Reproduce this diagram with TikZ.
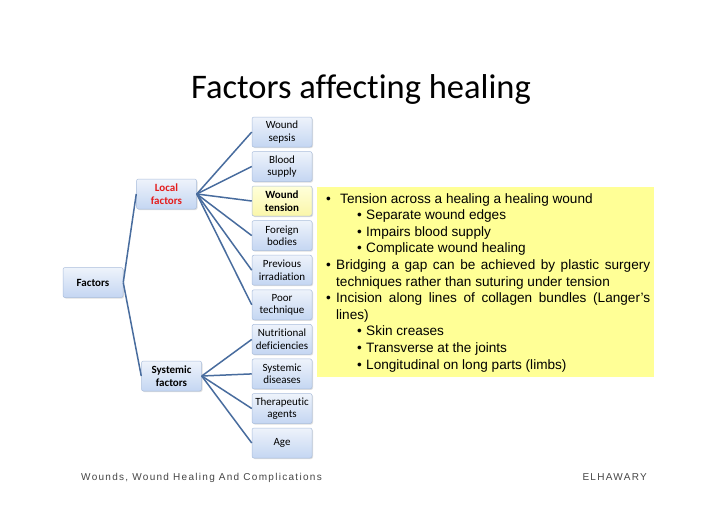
\documentclass[tikz,border=0pt]{standalone}
\usepackage{fontspec}
\setmainfont{Carlito}[Ligatures=NoCommon]
\newfontfamily\arialf{Liberation Sans}
\newfontfamily\footf[LetterSpace=13]{Liberation Sans}
\usetikzlibrary{shadows}
\definecolor{edgeblue}{RGB}{72,108,158}
\definecolor{boxtop}{RGB}{238,243,251}
\definecolor{boxbot}{RGB}{196,214,242}
\definecolor{boxline}{RGB}{170,190,220}
\definecolor{ytop}{RGB}{255,255,218}
\definecolor{ybot}{RGB}{250,246,170}
\definecolor{notebg}{RGB}{255,255,150}
\definecolor{localred}{RGB}{228,28,28}
\definecolor{footgray}{RGB}{70,70,70}
\tikzset{
  fbox/.style={draw=boxline, line width=0.5pt, rounded corners=2pt,
    top color=boxtop, bottom color=boxbot, minimum width=60pt, minimum height=30pt,
    inner xsep=0.5pt, inner ysep=1pt, align=center,
    font=\fontsize{11}{12.5}\selectfont,
    drop shadow={opacity=0.25, shadow xshift=1pt, shadow yshift=-1pt}},
  ybox/.style={fbox, top color=ytop, bottom color=ybot},
  link/.style={draw=edgeblue, line width=1.5pt},
  notetext/.style={anchor=base west, inner sep=0pt, font=\arialf\fontsize{13.6}{15}\selectfont},
  foot/.style={inner sep=0pt, text=footgray, font=\footf\fontsize{10}{12}\selectfont}
}
\begin{document}
\begin{tikzpicture}[x=1pt,y=-1pt]
\useasboundingbox[fill=white] (0,0) rectangle (728,515);

\node[anchor=base, inner sep=0pt, font=\fontsize{34.5}{38}\selectfont] (title) at (361,98) {Factors affecting healing};

% root and branches
\node[fbox, font=\bfseries\fontsize{11}{12.5}\selectfont] (factors) at (93,282.5) {Factors};
\node[fbox, text=localred, font=\bfseries\fontsize{11}{12.5}\selectfont] (local) at (166.5,194) {Local\\factors};
\node[fbox, font=\bfseries\fontsize{11}{12.5}\selectfont] (systemic) at (171.5,376) {Systemic\\factors};

% leaves
\node[fbox] (sepsis) at (282,132) {Wound\\sepsis};
\node[fbox] (blood) at (282,166.5) {Blood\\supply};
\node[ybox, font=\bfseries\fontsize{11}{12.5}\selectfont] (tension) at (282,201) {Wound\\tension};
\node[fbox] (foreign) at (282,235.6) {Foreign\\bodies};
\node[fbox] (irrad) at (282,270.2) {Previous\\irradiation};
\node[fbox] (poor) at (282,304.8) {Poor\\technique};
\node[fbox] (nutri) at (282,339.4) {Nutritional\\deficiencies};
\node[fbox] (sysdis) at (282,373.9) {Systemic\\diseases};
\node[fbox] (thera) at (282,408.5) {Therapeutic\\agents};
\node[fbox] (age) at (282,443) {Age};

% connectors
\draw[link] (factors.east) -- (local.west);
\draw[link] (factors.east) -- (systemic.west);
\foreach \t in {sepsis,blood,tension,foreign,irrad,poor}
  \draw[link] (local.east) -- (\t.west);
\foreach \t in {nutri,sysdis,thera,age}
  \draw[link] (systemic.east) -- (\t.west);

% note box
\node[fill=notebg, inner sep=0pt, minimum width=337pt, minimum height=190pt, anchor=north west] (note) at (317,187) {};
\node[notetext] (b1) at (326,203) {•};
\node[notetext] (t1) at (340,203) {Tension across a healing a healing wound};
\node[notetext] (b2) at (357,219.6) {•};
\node[notetext] (t2) at (366,219.6) {Separate wound edges};
\node[notetext] (b3) at (357,236.2) {•};
\node[notetext] (t3) at (366,236.2) {Impairs blood supply};
\node[notetext] (b4) at (357,252.8) {•};
\node[notetext] (t4) at (366,252.8) {Complicate wound healing};
\node[notetext] (b5) at (326,269.4) {•};
\node[notetext] (t5) at (336,269.4) {\makebox[314pt][s]{Bridging a gap can be achieved by plastic surgery}};
\node[notetext] (t6) at (336,286) {techniques rather than suturing under tension};
\node[notetext] (b7) at (326,302.6) {•};
\node[notetext] (t7) at (336,302.6) {\makebox[314pt][s]{Incision along lines of collagen bundles (Langer’s}};
\node[notetext] (t8) at (336,319.2) {lines)};
\node[notetext] (b9) at (357,335.8) {•};
\node[notetext] (t9) at (366,335.8) {Skin creases};
\node[notetext] (b10) at (357,352.4) {•};
\node[notetext] (t10) at (366,352.4) {Transverse at the joints};
\node[notetext] (b11) at (357,369) {•};
\node[notetext] (t11) at (366,369) {Longitudinal on long parts (limbs)};

% footer
\node[foot, anchor=base west] (footl) at (81,480) {Wounds, Wound Healing And Complications};
\node[foot, anchor=base east] (footr) at (647,480) {ELHAWARY};
\end{tikzpicture}
\end{document}
